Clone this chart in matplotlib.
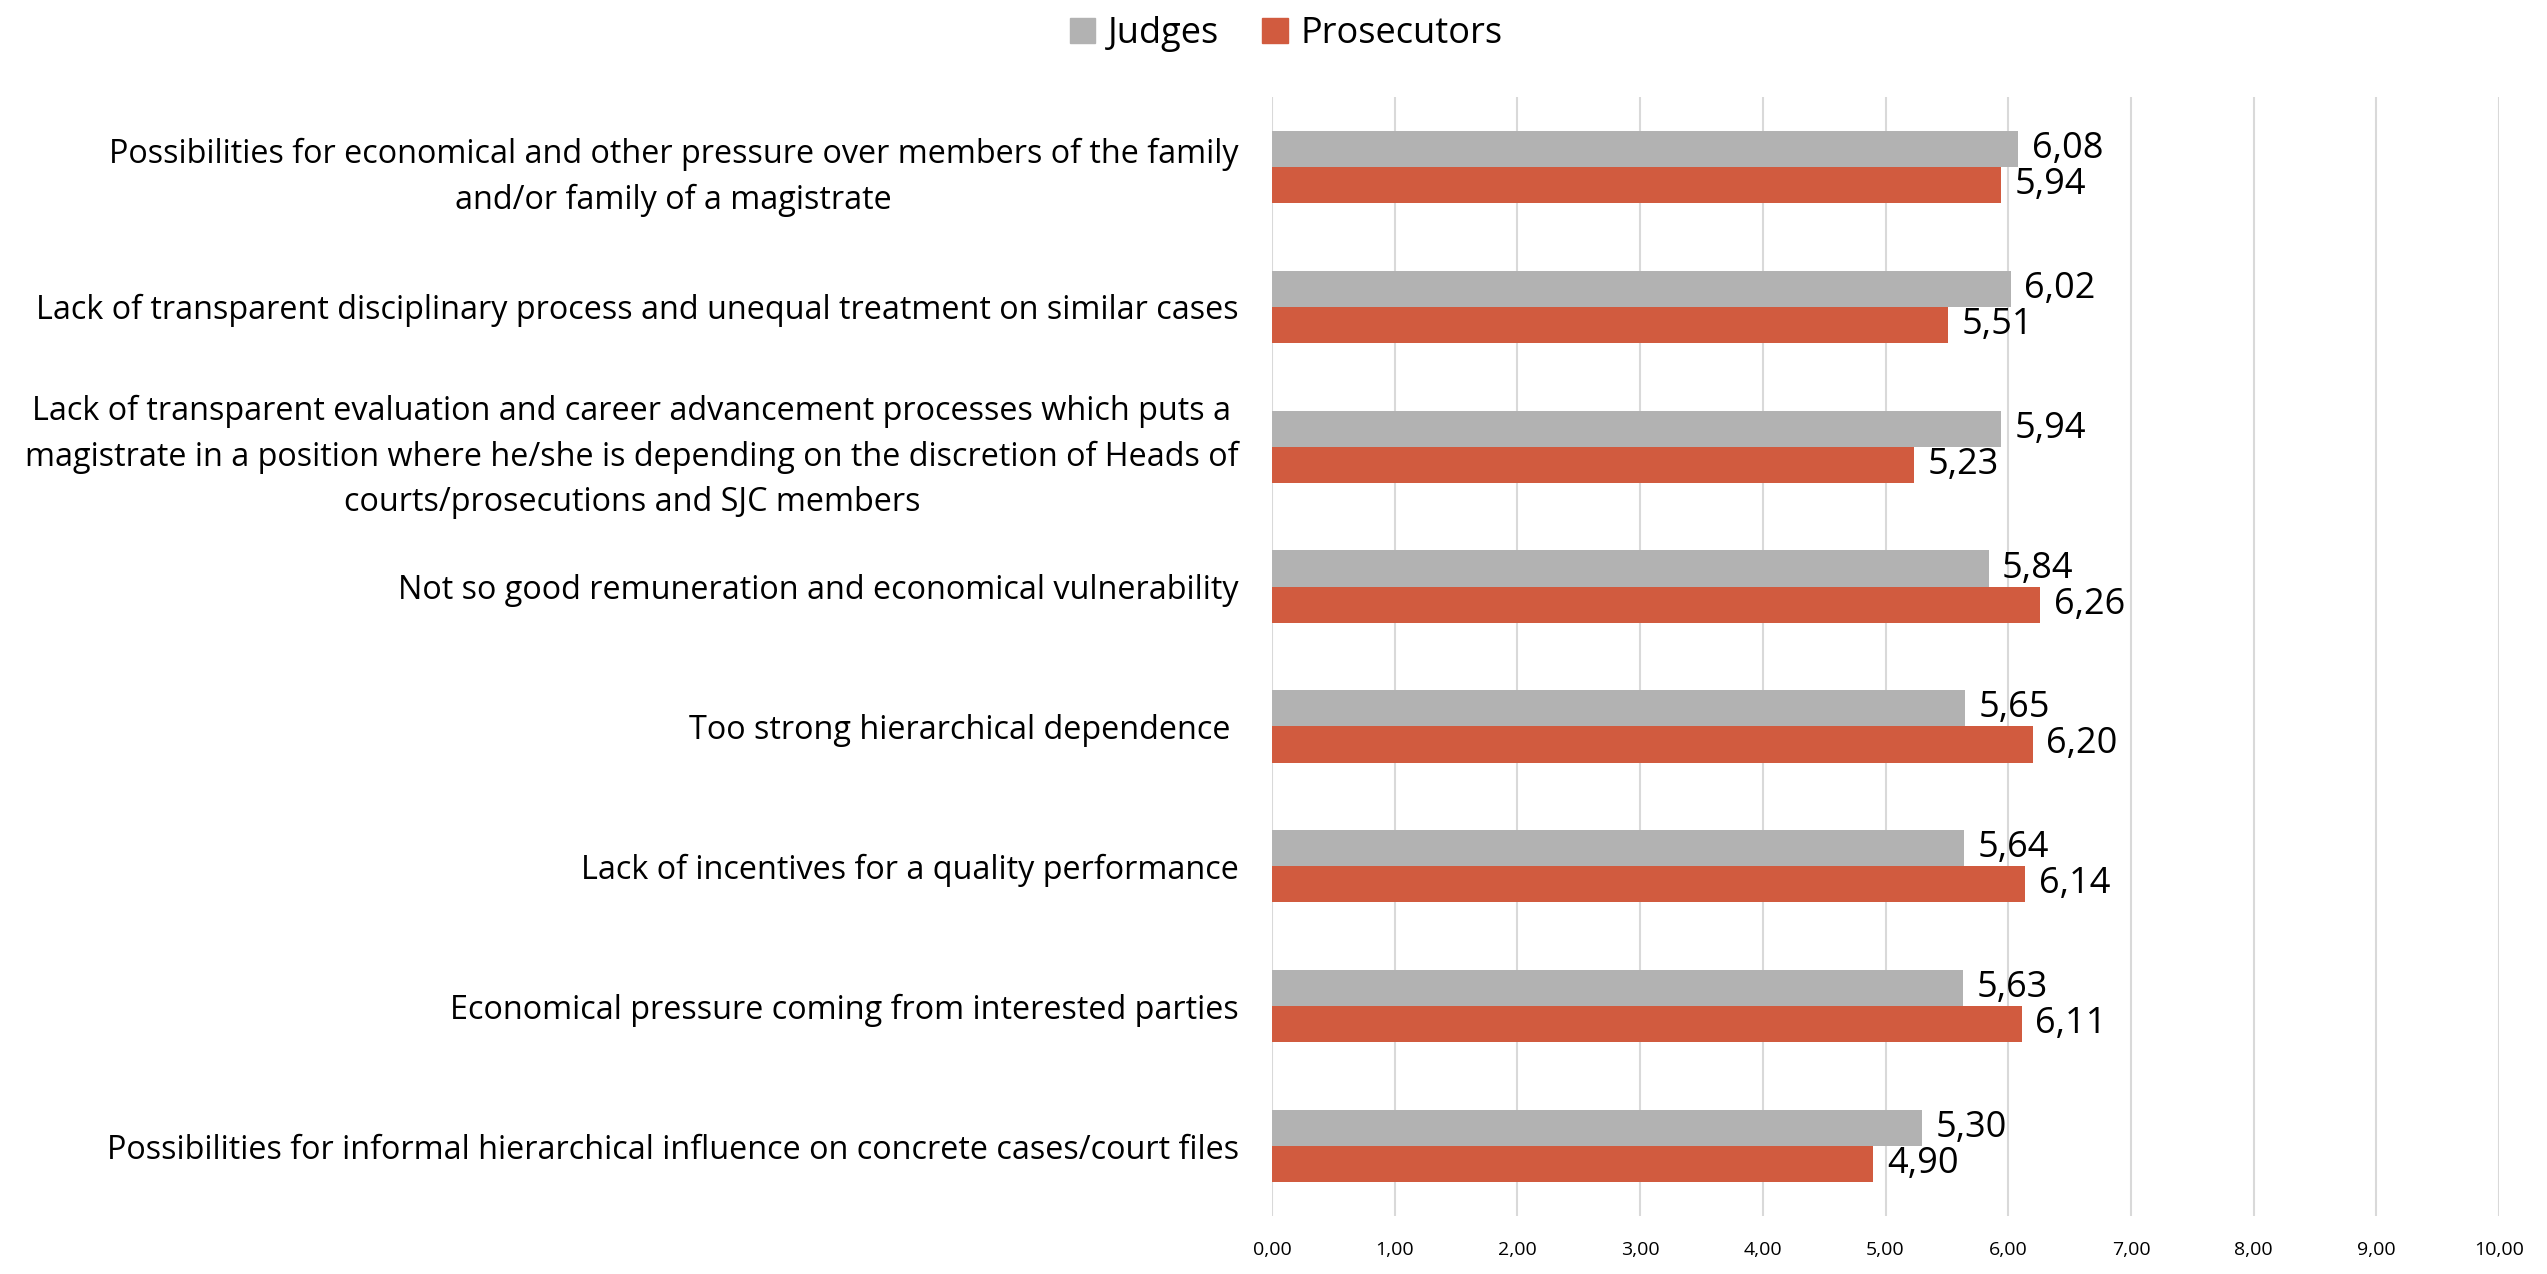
import matplotlib.pyplot as plt
import numpy as np
from matplotlib.patches import Patch

plt.rcParams['font.family'] = ['Open Sans', 'DejaVu Sans']

categories = [
    "Possibilities for economical and other pressure over members of the family\nand/or family of a magistrate",
    "Lack of transparent disciplinary process and unequal treatment on similar cases",
    "Lack of transparent evaluation and career advancement processes which puts a\nmagistrate in a position where he/she is depending on the discretion of Heads of\ncourts/prosecutions and SJC members",
    "Not so good remuneration and economical vulnerability",
    "Too strong hierarchical dependence ",
    "Lack of incentives for a quality performance",
    "Economical pressure coming from interested parties",
    "Possibilities for informal hierarchical influence on concrete cases/court files",
]
judges = [6.08, 6.02, 5.94, 5.84, 5.65, 5.64, 5.63, 5.30]
prosecutors = [5.94, 5.51, 5.23, 6.26, 6.20, 6.14, 6.11, 4.90]
xticks = np.arange(0, 11, 1)

gray = '#B2B2B2'
red = '#D15B3F'

fig = plt.figure(figsize=(25.47, 12.74), dpi=100)
ax = fig.add_axes([0.4994, 0.0455, 0.4818, 0.8784])

y = np.arange(len(categories))
h = 0.258
ax.barh(y - h / 2, judges, height=h, color=gray, zorder=3)
ax.barh(y + h / 2, prosecutors, height=h, color=red, zorder=3)

# value labels just past the bar ends, decimal comma
for yi, v in zip(y - h / 2, judges):
    ax.text(v + 0.11, yi, f"{v:.2f}".replace('.', ','), va='center', ha='left', fontsize=26)
for yi, v in zip(y + h / 2, prosecutors):
    ax.text(v + 0.11, yi, f"{v:.2f}".replace('.', ','), va='center', ha='left', fontsize=26)

ax.set_xlim(0, 10)
ax.set_ylim(len(categories) - 0.5, -0.5)
ax.set_xticks(xticks)
ax.set_xticklabels([f"{t:.2f}".replace('.', ',') for t in xticks], fontsize=14)
ax.set_yticks(y)
ax.set_yticklabels(categories, fontsize=23.3, multialignment='center', linespacing=1.5)
ax.tick_params(axis='both', length=0)
ax.tick_params(axis='x', pad=18)
ax.tick_params(axis='y', pad=24)
ax.grid(axis='x', color='#D9D9D9', linewidth=1.5, zorder=0)
for s in ax.spines.values():
    s.set_visible(False)

handles = [Patch(color=gray, label='Judges'), Patch(color=red, label='Prosecutors')]
fig.legend(handles=handles, loc='center', bbox_to_anchor=(0.505, 0.973), ncol=2, frameon=False,
           fontsize=26, handlelength=0.7, handleheight=0.7, handletextpad=0.35, columnspacing=1.2)

fig.savefig('out.png', dpi=100)
